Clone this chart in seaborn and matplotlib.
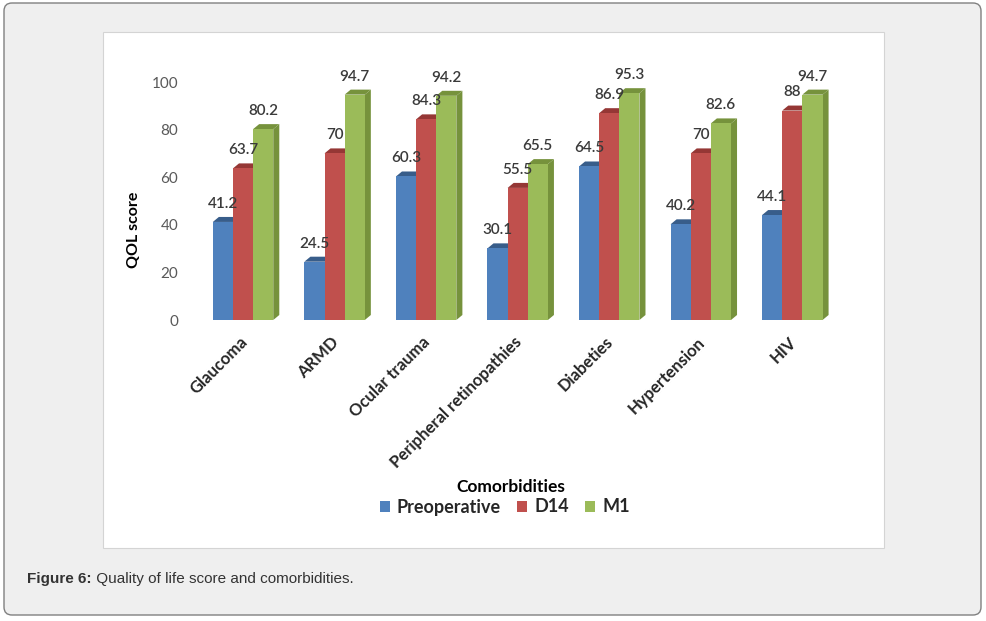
import pandas as pd
import matplotlib
matplotlib.use('Agg')
import matplotlib.pyplot as plt
import matplotlib.transforms as mtransforms
import seaborn as sns
from matplotlib.patches import Patch, Polygon, FancyBboxPatch, Rectangle

# data
categories = ['Glaucoma', 'ARMD', 'Ocular trauma', 'Peripheral retinopathies',
              'Diabeties', 'Hypertension', 'HIV']
preoperative = [41.2, 24.5, 60.3, 30.1, 64.5, 40.2, 44.1]
d14 = [63.7, 70, 84.3, 55.5, 86.9, 70, 88]
m1 = [80.2, 94.7, 94.2, 65.5, 95.3, 82.6, 94.7]
series = ['Preoperative', 'D14', 'M1']

front = ['#4f81bd', '#c0504d', '#9bbb59']
shade = ['#385d8a', '#953735', '#76923c']

df = pd.DataFrame({'cat': categories * 3,
                   'val': preoperative + d14 + m1,
                   'series': [s for s in series for _ in categories]})

sns.set_style('white')
plt.rcParams['font.family'] = ['Lato', 'DejaVu Sans']

fig = plt.figure(figsize=(9.87, 6.21), dpi=100)
fig.patch.set_facecolor('white')

#----------------------------------------------------------------
# frame + white chart area
fig.patches.append(FancyBboxPatch((0.04, 0.06), 9.77, 6.12,
                                  boxstyle='round,pad=0,rounding_size=0.08',
                                  transform=fig.dpi_scale_trans, zorder=-2,
                                  facecolor='#efefef', edgecolor='#808080', lw=1))
fig.patches.append(Rectangle((1.03, 0.73), 7.81, 5.16, transform=fig.dpi_scale_trans,
                             zorder=-1, facecolor='white', edgecolor='#d4d4d4', lw=0.8))

#----------------------------------------------------------------
ax = fig.add_axes([185 / 987, (621 - 320) / 621, 665 / 987, 238 / 621])
ax.set_facecolor('none')
sns.barplot(data=df, x='cat', y='val', hue='series', palette=front,
            width=0.66, gap=0, saturation=1, legend=False, ax=ax)

# 3D look: top cap + side face for each bar
dx, dy = 0.066, 2.1
for i, cont in enumerate(ax.containers):
    for bar in cont:
        bar.set_zorder(3)
        bar.set_edgecolor('none')
        x0 = bar.get_x()
        x1 = x0 + bar.get_width()
        h = bar.get_height()
        top = Polygon([(x0, h), (x0 + dx, h + dy), (x1 + dx, h + dy), (x1, h)],
                      closed=True, facecolor=shade[i], edgecolor='none', zorder=2)
        side = Polygon([(x1, 0), (x1 + dx, dy), (x1 + dx, h + dy), (x1, h)],
                       closed=True, facecolor=shade[i], edgecolor='none', zorder=2)
        ax.add_patch(top)
        ax.add_patch(side)
        ax.annotate(f'{h:g}', xy=(x0 + bar.get_width() / 2, h), xytext=(0, 8),
                    textcoords='offset points', ha='center', va='bottom',
                    fontsize=11, fontweight='semibold', color='#3a3a3a', zorder=5)

ax.set_xlim(-0.634, 6.63)
ax.set_ylim(0, 100)
ax.set_yticks(range(0, 101, 20))
ax.tick_params(axis='y', length=0, pad=5, labelsize=11, labelcolor='#595959')
ax.tick_params(axis='x', length=0, pad=10)
ax.set_xticks(range(len(categories)))
ax.set_xticklabels(categories, rotation=45, ha='right', va='top',
                   rotation_mode='anchor', fontsize=12, fontweight='bold', color='#262626')
shift = mtransforms.ScaledTranslation(-4 / 100, 0, fig.dpi_scale_trans)
for lab in ax.get_xticklabels():
    lab.set_transform(lab.get_transform() + shift)
sns.despine(ax=ax, left=True, bottom=True)

ax.set_ylabel('QOL score', fontsize=11.5, fontweight='bold', color='black')
ax.yaxis.set_label_coords(-0.066, 0.38)
ax.set_xlabel('')

fig.text(511 / 987, 1 - 487 / 621, 'Comorbidities', ha='center', va='center',
         fontsize=12.5, fontweight='bold', color='black')

handles = [Patch(facecolor=c, edgecolor='none') for c in front]
fig.legend(handles, series, loc='center', bbox_to_anchor=(505 / 987, 1 - 507 / 621),
           ncol=3, frameon=False, handlelength=0.55, handleheight=0.55,
           handletextpad=0.4, columnspacing=0.9,
           prop={'family': ['Lato', 'DejaVu Sans'], 'weight': 'bold', 'size': 13})

#----------------------------------------------------------------
# caption
cap = fig.text(27 / 987, 1 - 579 / 621, 'Figure 6:', ha='left', va='center',
               fontsize=11, fontweight='bold', color='#333333',
               family=['Liberation Sans', 'DejaVu Sans'])
ax.annotate(' Quality of life score and comorbidities.', xy=(1, 0), xycoords=cap,
            ha='left', va='bottom', fontsize=11, color='#333333',
            family=['Liberation Sans', 'DejaVu Sans'], annotation_clip=False)

fig.savefig('out.png', dpi=100)
